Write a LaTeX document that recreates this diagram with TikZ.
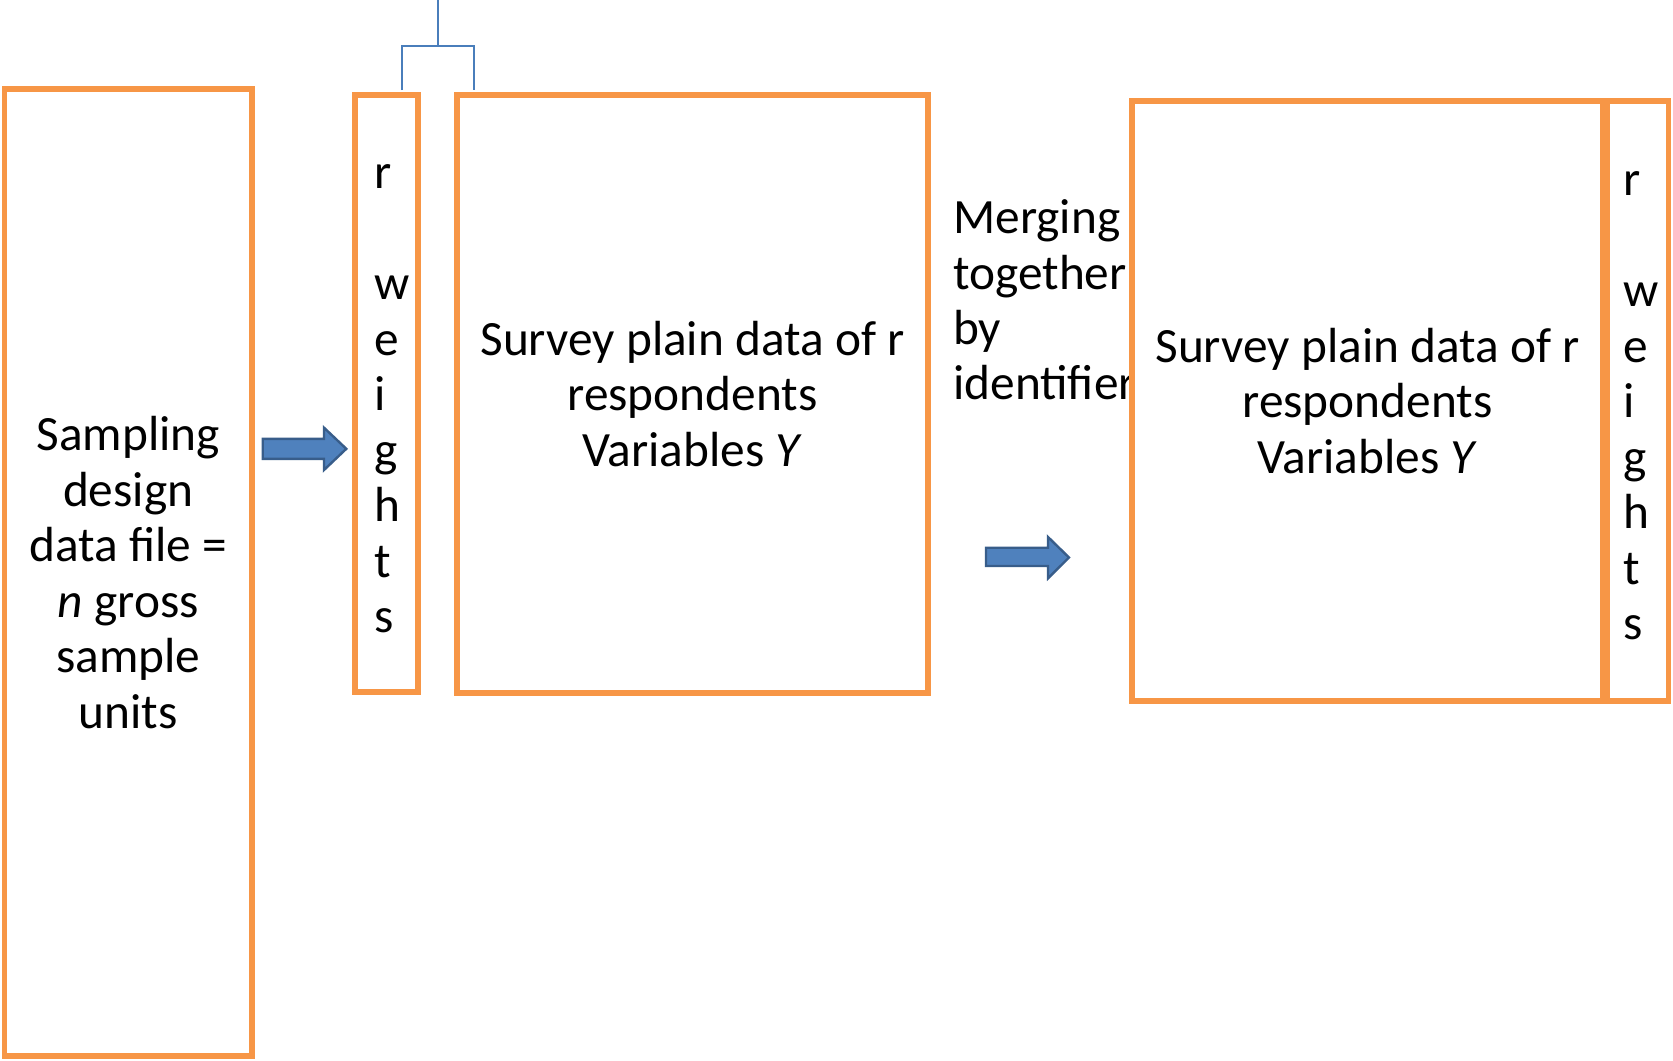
\documentclass[tikz,border=0pt]{standalone}
\usepackage{fontspec}
\setmainfont{Carlito}
\begin{document}
\begin{tikzpicture}[x=0.75pt,y=-0.75pt,
  boxline/.style={draw=boxorange,line width=3.9pt,fill=white,inner sep=0pt,
    font=\fontsize{37}{41.6}\selectfont},
  label/.style={inner sep=0pt,font=\fontsize{37}{41.6}\selectfont},
  blockarrow/.style={fill=arrowfill,draw=arrowedge,line width=1.8pt,line join=miter},
  bracket/.style={draw=bracketblue,line width=1.4pt}]
\definecolor{boxorange}{HTML}{F79646}
\definecolor{arrowfill}{HTML}{4F81BD}
\definecolor{arrowedge}{HTML}{385D8A}
\definecolor{bracketblue}{HTML}{4A7EBB}
\useasboundingbox (0,0) rectangle (1673,1060);

% merging caption, partly covered by the merged file box
\node[label,anchor=west,align=left] (merge) at (953,300)
  {Merging\\together\\by\\identifier};

% source files
\node[boxline,minimum width=185.6pt,minimum height=725.2pt,align=center] (design)
  at (128.2,572.5) {Sampling\\design\\data file =\\\textit{n} gross\\sample\\units};
\node[boxline,minimum width=47.2pt,minimum height=447.7pt] (w1) at (386.5,393.5) {};
\node[label,align=left] (w1t) at (392,399)
  {r\\\mbox{}\\w\\e\\i\\g\\h\\t\\s};
\node[boxline,minimum width=353.2pt,minimum height=448.5pt,align=center] (survey)
  at (692.5,394) {Survey plain data of r\\respondents\\Variables \textit{Y}};

% merged file
\node[boxline,minimum width=353.2pt,minimum height=450pt,align=center] (merged)
  at (1367.5,401) {Survey plain data of r\\respondents\\Variables \textit{Y}};
\node[boxline,minimum width=45.7pt,minimum height=450pt] (w2) at (1638,401) {};
\node[label,align=left] (w2t) at (1641,406)
  {r\\\mbox{}\\w\\e\\i\\g\\h\\t\\s};

% block arrows
\draw[blockarrow] (262.7,438.8) -- (324,438.8) -- (324,427.7) -- (346.3,448.8)
  -- (324,470) -- (324,458.8) -- (262.7,458.8) -- cycle;
\draw[blockarrow] (986,547.7) -- (1048,547.7) -- (1048,537) -- (1069,557.5)
  -- (1048,578.3) -- (1048,566) -- (986,566) -- cycle;

% bracket joining weights and survey data
\coordinate (btop) at (438.3,0);
\coordinate (bmid) at (438.3,45.7);
\coordinate (bl) at (401.7,45.7);
\coordinate (br) at (474.3,45.7);
\coordinate (blend) at (401.7,90);
\coordinate (brend) at (474.3,90);
\draw[bracket] (btop) -- (bmid);
\draw[bracket] (blend) -- (bl) -- (br) -- (brend);
\end{tikzpicture}
\end{document}
